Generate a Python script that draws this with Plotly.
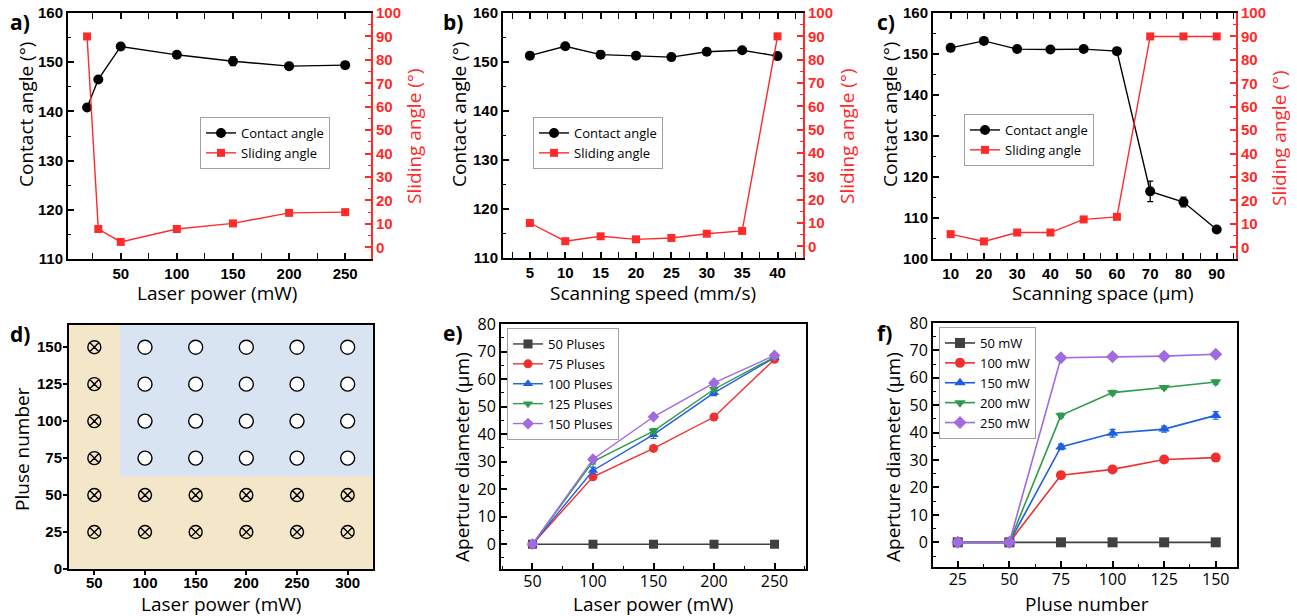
import plotly.graph_objects as go

W, H = 1297, 616

# ---------------- data ----------------
# a) laser power
a_power = [20, 30, 50, 100, 150, 200, 250]
a_contact = [140.8, 146.5, 153.2, 151.5, 150.2, 149.2, 149.4]
a_contact_err = [0.5, 0.5, 0.4, 0.6, 0.9, 0.6, 0.5]
a_sliding = [90, 7.8, 2.3, 7.8, 10.2, 14.7, 15.0]

# b) scanning speed
b_speed = [5, 10, 15, 20, 25, 30, 35, 40]
b_contact = [151.3, 153.2, 151.5, 151.3, 151.0, 152.1, 152.4, 151.2]
b_contact_err = [0.4, 0.4, 0.7, 0.4, 0.4, 0.4, 0.4, 0.4]
b_sliding = [10.0, 2.2, 4.3, 3.0, 3.6, 5.4, 6.6, 90]

# c) scanning space
c_space = [10, 20, 30, 40, 50, 60, 70, 80, 90]
c_contact = [151.5, 153.2, 151.2, 151.1, 151.2, 150.7, 116.5, 113.9, 107.2]
c_contact_err = [0.4, 0.4, 0.4, 0.4, 0.4, 0.4, 2.5, 1.2, 0.4]
c_sliding = [5.6, 2.5, 6.3, 6.3, 11.9, 13.0, 90, 90, 90]

# d) process map
d_power = [50, 100, 150, 200, 250, 300]
d_pulse = [25, 50, 75, 100, 125, 150]
d_power_threshold = 75
d_pulse_threshold = 62.5

# e) aperture vs laser power
e_power = [50, 100, 150, 200, 250]
e_names = ["50 Pluses", "75 Pluses", "100 Pluses", "125 Pluses", "150 Pluses"]
e_values = [
    [0, 0, 0, 0, 0],
    [0, 24.5, 34.8, 46.2, 67.2],
    [0, 26.8, 39.8, 55.0, 67.8],
    [0, 30.0, 41.1, 56.3, 68.0],
    [0, 30.9, 46.3, 58.6, 68.6],
]
e_err = [
    [0, 0, 0, 0, 0],
    [0, 0.8, 0.6, 0.7, 0.6],
    [0, 1.2, 1.4, 1.0, 0.6],
    [0, 0.8, 0.9, 0.9, 0.6],
    [0, 0.8, 0.6, 0.8, 0.6],
]

# f) aperture vs pulse number
f_pulse = [25, 50, 75, 100, 125, 150]
f_names = ["50 mW", "100 mW", "150 mW", "200 mW", "250 mW"]
f_values = [
    [0, 0, 0, 0, 0, 0],
    [0, 0, 24.5, 26.6, 30.2, 30.9],
    [0, 0, 34.8, 39.8, 41.3, 46.3],
    [0, 0, 46.3, 54.6, 56.5, 58.5],
    [0, 0, 67.3, 67.7, 67.9, 68.6],
]
f_err = [
    [0, 0, 0, 0, 0, 0],
    [0, 0, 0.6, 0.7, 0.7, 0.6],
    [0, 0, 1.0, 1.4, 1.1, 1.4],
    [0, 0, 0.8, 0.8, 0.7, 0.8],
    [0, 0, 0.6, 0.6, 0.6, 0.6],
]

# axis titles
title_contact = "Contact angle (°)"
title_sliding = "Sliding angle (°)"
title_power = "Laser power (mW)"
title_speed = "Scanning speed (mm/s)"
title_space = "Scanning space (μm)"
title_pulse = "Pluse number"
title_aperture = "Aperture diameter (μm)"

series_colors = ["#404040", "#F03030", "#1E5FE0", "#2E9A4C", "#A06AE0"]
series_symbols = ["square", "circle", "triangle-up", "triangle-down", "diamond"]

RED = "#FF2A2A"
BLACK = "#000000"
TICKFONT_BOLD = dict(family="Liberation Sans, Arial", size=15, color="black", weight="bold")
TICKFONT = dict(family="Open Sans", size=16, color="black")
TITLE_SIZE = 19


def px_dom_x(x0, x1):
    return [x0 / W, x1 / W]


def px_dom_y(y0, y1):
    return [1 - y1 / H, 1 - y0 / H]


fig = go.Figure()


def xaxis_cfg(dom, rng, dtick, minor_dtick, anchor, tickfont=TICKFONT_BOLD, mirror="allticks", ticks="inside"):
    return dict(
        domain=dom, range=rng, dtick=dtick, tick0=0, anchor=anchor, automargin=False,
        showline=True, linecolor=BLACK, linewidth=2, mirror=mirror,
        ticks=ticks, ticklen=6, tickwidth=1.5, tickcolor=BLACK,
        minor=dict(dtick=minor_dtick, ticks=ticks, ticklen=3, tickwidth=1.2, tickcolor=BLACK),
        showgrid=False, zeroline=False, tickfont=tickfont,
    )


def yaxis_cfg(dom, rng, dtick, minor_dtick, anchor, tickfont=TICKFONT_BOLD, mirror=False, ticks="inside"):
    return dict(
        domain=dom, range=rng, dtick=dtick, tick0=0, anchor=anchor, automargin=False,
        showline=True, linecolor=BLACK, linewidth=2, mirror=mirror,
        ticks=ticks, ticklen=6, tickwidth=1.5, tickcolor=BLACK,
        minor=dict(dtick=minor_dtick, ticks=ticks, ticklen=3, tickwidth=1.2, tickcolor=BLACK),
        showgrid=False, zeroline=False, tickfont=tickfont,
    )


def yaxis_right_cfg(overlay, anchor):
    return dict(
        overlaying=overlay, side="right", anchor=anchor, range=[-5, 100], dtick=10, tick0=0,
        automargin=False,
        showline=True, linecolor=RED, linewidth=2,
        ticks="inside", ticklen=6, tickwidth=1.5, tickcolor=RED,
        minor=dict(dtick=5, ticks="inside", ticklen=3, tickwidth=1.2, tickcolor=RED),
        showgrid=False, zeroline=False,
        tickfont=dict(family="Liberation Sans, Arial", size=15, color=RED, weight="bold"),
    )


layout = {}
LEGEND_FONT = dict(family="Open Sans", size=13, color="black")
annotations = []


def add_title(text, cx, cy, vertical=False, color="black"):
    annotations.append(dict(
        text=text, x=cx / W, y=1 - cy / H, xref="paper", yref="paper",
        xanchor="center", yanchor="middle", showarrow=False,
        textangle=-90 if vertical else 0,
        font=dict(family="Open Sans", size=TITLE_SIZE, color=color),
    ))


# ---- panels a, b, c ----
top_panels = [
    ("x", "y", "y2", "xaxis", "yaxis", "yaxis2", (68, 371), (13, 259), [3, 273], 50, 25,
     [110, 160], title_power, a_power, a_contact, a_contact_err, a_sliding, "legend",
     (200, 117), (217, 293), (26, 115), (414, 136)),
    ("x2", "y3", "y4", "xaxis2", "yaxis3", "yaxis4", (503, 803), (13, 258), [1.2, 43.6], 5, 2.5,
     [110, 160], title_speed, b_speed, b_contact, b_contact_err, b_sliding, "legend2",
     (533, 117), (653, 293), (459, 115), (847, 136)),
    ("x3", "y5", "y6", "xaxis3", "yaxis5", "yaxis6", (933, 1236), (13, 259), [4.7, 95.8], 10, 5,
     [100, 160], title_space, c_space, c_contact, c_contact_err, c_sliding, "legend3",
     (964, 114), (1103, 293), (890, 115), (1279, 138)),
]

for (xr, yr, yr2, xk, yk, yk2, xd, yd, xrange_, xdt, xmdt, yrange_, xtitle,
     xs, ca, cerr, sa, lg, lpos, xt_pos, yt_pos, yt2_pos) in top_panels:
    layout[xk] = xaxis_cfg(px_dom_x(*xd), xrange_, xdt, xmdt, yr)
    layout[yk] = yaxis_cfg(px_dom_y(*yd), yrange_, 10, 5, xr)
    layout[yk2] = yaxis_right_cfg(yr, xr)
    add_title(xtitle, *xt_pos)
    add_title(title_contact, *yt_pos, vertical=True)
    add_title(title_sliding, *yt2_pos, vertical=True, color=RED)
    fig.add_trace(go.Scatter(
        x=xs, y=ca, xaxis=xr, yaxis=yr, name="Contact angle", legend=lg,
        mode="lines+markers", line=dict(color="black", width=1.4),
        marker=dict(symbol="circle", size=10, color="black"),
        error_y=dict(type="data", array=cerr, color="black", thickness=1.3, width=3),
    ))
    fig.add_trace(go.Scatter(
        x=xs, y=sa, xaxis=xr, yaxis=yr2, name="Sliding angle", legend=lg,
        mode="lines+markers", line=dict(color=RED, width=1.4),
        marker=dict(symbol="square", size=8, color=RED),
    ))
    layout[lg] = dict(
        x=lpos[0] / W, y=1 - lpos[1] / H, xanchor="left", yanchor="top",
        bgcolor="white", bordercolor="#A0A0A0", borderwidth=1,
        font=LEGEND_FONT, tracegroupgap=0, itemwidth=30,
    )

# ---- panel d ----
layout["xaxis4"] = xaxis_cfg(px_dom_x(69, 373), [25, 325], 50, 25, "y7", mirror=True, ticks="outside")
layout["xaxis4"].update(minor=dict(ticks=""), tick0=50, ticklen=4, ticklabelstandoff=-5)
layout["yaxis7"] = yaxis_cfg(px_dom_y(325, 569), [0, 165], 25, 25, "x4", mirror=True, ticks="outside")
layout["yaxis7"].update(minor=dict(ticks=""), ticklen=4, ticklabelstandoff=-2)
add_title(title_power, 221, 604)
add_title(title_pulse, 22, 449, vertical=True)

shapes = [
    dict(type="rect", xref="x4", yref="y7", x0=25, x1=325, y0=0, y1=165,
         fillcolor="#F3E6C9", line=dict(width=0), layer="below"),
    dict(type="rect", xref="x4", yref="y7", x0=d_power_threshold, x1=325, y0=d_pulse_threshold, y1=165,
         fillcolor="#D8E4F2", line=dict(width=0), layer="below"),
]

ok_x, ok_y, bad_x, bad_y = [], [], [], []
for p in d_power:
    for n in d_pulse:
        if p > d_power_threshold and n > d_pulse_threshold:
            ok_x.append(p); ok_y.append(n)
        else:
            bad_x.append(p); bad_y.append(n)

fig.add_trace(go.Scatter(x=bad_x, y=bad_y, xaxis="x4", yaxis="y7", mode="markers", showlegend=False,
                         marker=dict(symbol="circle-x-open", size=13, color="black", line=dict(width=1.4))))
fig.add_trace(go.Scatter(x=ok_x, y=ok_y, xaxis="x4", yaxis="y7", mode="markers", showlegend=False,
                         marker=dict(symbol="circle", size=14, color="white", line=dict(width=1.4, color="black"))))

# ---- panels e, f ----
layout["xaxis5"] = xaxis_cfg(px_dom_x(501, 806), [24, 276], 50, 25, "y8", tickfont=TICKFONT, mirror=True)
layout["xaxis5"].update(ticklabelstandoff=-3)
layout["yaxis8"] = yaxis_cfg(px_dom_y(324, 569), [-9, 80], 10, 5, "x5", tickfont=TICKFONT, mirror=True)
layout["xaxis6"] = xaxis_cfg(px_dom_x(933, 1237), [13, 160.3], 25, 12.5, "y9", tickfont=TICKFONT, mirror=True)
layout["xaxis6"].update(ticklabelstandoff=-3)
layout["yaxis9"] = yaxis_cfg(px_dom_y(323, 567), [-9, 80], 10, 5, "x6", tickfont=TICKFONT, mirror=True)
add_title(title_power, 653, 604)
add_title(title_aperture, 462, 457, vertical=True)
add_title(title_pulse, 1087, 604)
add_title(title_aperture, 893, 457, vertical=True)

for i, name in enumerate(e_names):
    fig.add_trace(go.Scatter(
        x=e_power, y=e_values[i], xaxis="x5", yaxis="y8", name=name, legend="legend4",
        mode="lines+markers", line=dict(color=series_colors[i], width=1.4),
        marker=dict(symbol=series_symbols[i], size=9, color=series_colors[i]),
        error_y=dict(type="data", array=e_err[i], color=series_colors[i], thickness=1.2, width=3),
    ))
for i, name in enumerate(f_names):
    fig.add_trace(go.Scatter(
        x=f_pulse, y=f_values[i], xaxis="x6", yaxis="y9", name=name, legend="legend5",
        mode="lines+markers", line=dict(color=series_colors[i], width=1.6),
        marker=dict(symbol=series_symbols[i], size=10, color=series_colors[i]),
        error_y=dict(type="data", array=f_err[i], color=series_colors[i], thickness=1.2, width=3),
    ))

for lg, pos in (("legend4", (507, 328)), ("legend5", (939, 327))):
    layout[lg] = dict(
        x=pos[0] / W, y=1 - pos[1] / H, xanchor="left", yanchor="top",
        bgcolor="white", bordercolor="#A0A0A0", borderwidth=1,
        font=LEGEND_FONT, tracegroupgap=0, itemwidth=30,
    )

# panel labels
panel_labels = [("a)", 8, 6), ("b)", 441, 6), ("c)", 875, 6),
                ("d)", 8, 318), ("e)", 441, 317), ("f)", 875, 317)]
for t, px_x, py in panel_labels:
    annotations.append(dict(
        text=t, x=px_x / W, y=1 - py / H, xref="paper", yref="paper", xanchor="left", yanchor="top",
        showarrow=False, font=dict(family="Open Sans", size=21, color="black", weight="bold")))

fig.update_layout(
    width=W, height=H, margin=dict(l=0, r=0, t=0, b=0),
    paper_bgcolor="white", plot_bgcolor="white",
    shapes=shapes, annotations=annotations,
    **layout,
)

fig.write_html("out.html", config={"displayModeBar": False},
               post_script="document.body.style.margin='0';document.body.style.overflow='hidden';")
